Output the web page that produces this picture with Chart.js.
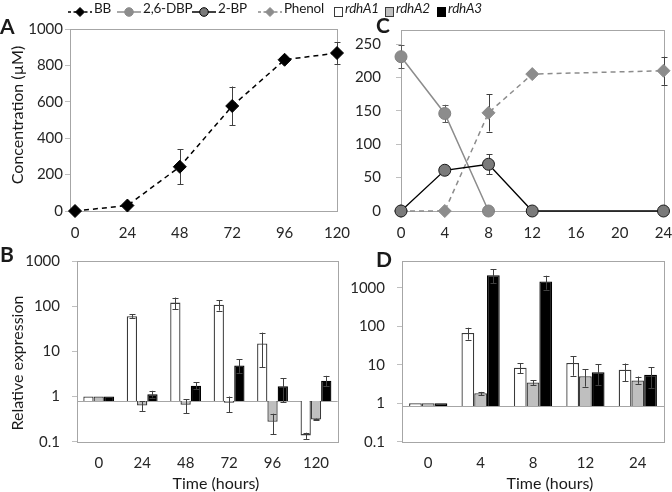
<!DOCTYPE html>
<html><head><meta charset="utf-8">
<script src="https://cdn.jsdelivr.net/npm/chart.js@4.4.1/dist/chart.umd.min.js"></script>
<style>
html,body{margin:0;padding:0;background:#fff;}
#wrap{position:relative;width:672px;height:492px;overflow:hidden;font-family:Lato,sans-serif;color:#1a1a1a;background:#fff;}
canvas{position:absolute;}
.lgt{position:absolute;top:0;height:16px;font-size:13.5px;line-height:16px;letter-spacing:-0.2px;white-space:nowrap;}
.lgs{position:absolute;top:2px;}
.let{position:absolute;font-weight:bold;font-size:21px;line-height:21px;}
.ttl{position:absolute;font-size:16px;line-height:20px;height:20px;width:220px;text-align:center;white-space:nowrap;}
</style></head><body>
<div id="wrap">
 <canvas id="cA" width="360" height="250" style="left:0;top:0"></canvas>
 <canvas id="cC" width="336" height="250" style="left:336px;top:0"></canvas>
 <canvas id="cB" width="360" height="252" style="left:0;top:240px"></canvas>
 <canvas id="cD" width="336" height="252" style="left:336px;top:240px"></canvas>
 <div class="let" style="left:0px;top:15px">A</div>
 <div class="let" style="left:376px;top:14px">C</div>
 <div class="let" style="left:0px;top:243px">B</div>
 <div class="let" style="left:376px;top:248px">D</div>
 <div class="ttl" style="left:-93px;top:105px;transform:rotate(-90deg)">Concentration (µM)</div>
 <div class="ttl" style="left:-93px;top:353px;transform:rotate(-90deg)">Relative expression</div>
 <div class="ttl" style="left:106px;top:473px">Time (hours)</div>
 <div class="ttl" style="left:440px;top:473px">Time (hours)</div>
 <div id="legend"></div>
</div>
<script>
// ---------- data ----------
const timeA = [0, 24, 48, 72, 96, 120];
const bb    = [0, 30, 243, 577, 831, 868];
const bbErr = [0, 0, 97, 107, 0, 60];

const timeC     = [0, 4, 8, 12, 24];
const dbp       = [231, 146, 0, null, null];
const dbpErr    = [17, 13, 0, 0, 0];
const bp        = [0, 61, 70, 0, 0];
const bpErr     = [0, 0, 15, 0, 0];
const phenol    = [0, 0, 147, 205, 210];
const phenolErr = [0, 0, 28, 0, 21];

const ticksA = [0, 24, 48, 72, 96, 120];
const ticksCy = [0, 50, 100, 150, 200, 250];
const logTicks = [0.1, 1, 10, 100, 1000];

const catB = ['0', '24', '48', '72', '96', '120'];
const rdhA1B   = [1, 60, 120, 108, 14.9, 0.138];
const rdhA1Blo = [1, 55, 85, 80, 4.4, 0.115];
const rdhA1Bhi = [1, 66, 155, 137, 26, 0.158];
const rdhA2B   = [1, 0.63, 0.66, 0.73, 0.277, 0.31];
const rdhA2Blo = [1, 0.48, 0.43, 0.45, 0.148, 0.295];
const rdhA2Bhi = [1, 0.78, 0.86, 1.0, 0.416, 0.325];
const rdhA3B   = [1, 1.13, 1.73, 4.88, 1.68, 2.23];
const rdhA3Blo = [1, 0.95, 1.45, 3.35, 0.74, 1.7];
const rdhA3Bhi = [1, 1.34, 2.05, 6.7, 2.56, 2.87];

const catD = ['0', '4', '8', '12', '24'];
const rdhA1D   = [1, 67, 8.35, 11.1, 7.4];
const rdhA1Dlo = [1, 45, 6.1, 5.2, 3.75];
const rdhA1Dhi = [1, 92, 11.1, 16.9, 10.8];
const rdhA2D   = [1, 1.82, 3.45, 5.07, 3.9];
const rdhA2Dlo = [1, 1.62, 3.0, 2.7, 3.19];
const rdhA2Dhi = [1, 1.97, 3.98, 7.7, 4.95];
const rdhA3D   = [1, 2146, 1470, 6.44, 5.48];
const rdhA3Dlo = [1, 1300, 900, 3.0, 2.5];
const rdhA3Dhi = [1, 3020, 2070, 10.2, 8.7];

const baseB = 0.8;
const baseD = 0.85;

// ---------- helpers ----------
Chart.defaults.font.family = 'Lato, sans-serif';
Chart.defaults.font.size = 15;
Chart.defaults.color = '#262626';

function pts(xs, ys) {
  const out = [];
  xs.forEach((x, i) => { if (ys[i] !== null) out.push({x: x, y: ys[i]}); });
  return out;
}
function errs(xs, ys, es, sign) {
  const out = [];
  xs.forEach((x, i) => { if (ys[i] !== null) out.push(ys[i] + sign * es[i]); });
  return out;
}
function fitY(w) {
  return s => { s.width = w; s.paddingTop = 0; s.paddingBottom = 0; s.paddingLeft = 0; s.paddingRight = 0; };
}
function fitX(h) {
  return s => { s.height = h; s.paddingTop = 0; s.paddingBottom = 0; s.paddingLeft = 0; s.paddingRight = 0; };
}
function drawErr(chart) {
  const ctx = chart.ctx;
  chart.data.datasets.forEach((ds, i) => {
    if (!ds.errLo) return;
    const meta = chart.getDatasetMeta(i);
    const ys = chart.scales[meta.yAxisID];
    ctx.save();
    ctx.strokeStyle = ds.errColor || '#404040';
    ctx.lineWidth = 1;
    meta.data.forEach((el, j) => {
      const lo = ds.errLo[j], hi = ds.errHi[j];
      if (lo == null || hi == null || lo === hi) return;
      const x = Math.round(el.x) + 0.5;
      const y1 = ys.getPixelForValue(lo), y2 = ys.getPixelForValue(hi);
      ctx.beginPath();
      ctx.moveTo(x, y1); ctx.lineTo(x, y2);
      ctx.moveTo(x - 3, Math.round(y1) + 0.5); ctx.lineTo(x + 3, Math.round(y1) + 0.5);
      ctx.moveTo(x - 3, Math.round(y2) + 0.5); ctx.lineTo(x + 3, Math.round(y2) + 0.5);
      ctx.stroke();
    });
    ctx.restore();
  });
}
const boxPlugin = {
  id: 'box',
  beforeDatasetsDraw(chart, args, opts) {
    const {ctx, chartArea: a} = chart;
    ctx.save();
    ctx.strokeStyle = '#a6a6a6';
    ctx.lineWidth = 1;
    ctx.strokeRect(Math.round(a.left) + 0.5, Math.round(a.top) + 0.5,
                   Math.round(a.right - a.left), Math.round(a.bottom - a.top));
    if (opts && opts.baseline != null) {
      const y = Math.round(chart.scales.y.getPixelForValue(opts.baseline)) + 0.5;
      ctx.beginPath(); ctx.moveTo(a.left, y); ctx.lineTo(a.right, y); ctx.stroke();
    }
    ctx.restore();
  }
};
const errBefore = {id: 'errBefore', beforeDatasetsDraw: drawErr};
const errAfter = {id: 'errAfter', afterDatasetsDraw: drawErr};

function baseOpts(cw, ch, l, t, r, b) {
  return {
    responsive: false, animation: false, events: [],
    layout: {padding: {left: 0, top: t, right: cw - r, bottom: 0}},
    plugins: {legend: {display: false}, tooltip: {enabled: false}},
    _xh: ch - b, _yw: l
  };
}
const plainNum = v => String(v);

// ---------- Panel A ----------
(function () {
  const o = baseOpts(360, 250, 70, 29, 337, 211);
  o.scales = {
    x: {type: 'linear', min: -2.3, max: 120,
        afterBuildTicks: s => { s.ticks = ticksA.map(v => ({value: v})); },
        ticks: {padding: 13, callback: plainNum}, grid: {display: false, drawTicks: false}, border: {display: false},
        afterFit: fitX(o._xh)},
    y: {type: 'linear', min: 0, max: 1000, ticks: {stepSize: 200, padding: 2, callback: plainNum},
        grid: {drawOnChartArea: false, tickLength: 5, tickColor: '#bfbfbf'}, border: {display: false},
        afterFit: fitY(o._yw)}
  };
  new Chart(document.getElementById('cA'), {
    type: 'line',
    data: {datasets: [{
      label: 'BB', data: pts(timeA, bb),
      errLo: errs(timeA, bb, bbErr, -1), errHi: errs(timeA, bb, bbErr, 1), errColor: '#404040',
      borderColor: '#000', borderWidth: 1.5, borderDash: [5, 4],
      pointStyle: 'rectRot', pointRadius: 6.5, pointBackgroundColor: '#000', pointBorderColor: '#000',
      pointBorderWidth: 1, clip: false
    }]},
    options: o,
    plugins: [boxPlugin, errBefore]
  });
})();

// ---------- Panel C ----------
(function () {
  const o = baseOpts(336, 250, 65, 30, 327.5, 211);
  o.scales = {
    x: {type: 'linear', min: 0, max: 24, ticks: {stepSize: 4, padding: 13, callback: plainNum},
        grid: {display: false, drawTicks: false}, border: {display: false}, afterFit: fitX(o._xh)},
    y: {type: 'linear', min: 0, max: 271,
        afterBuildTicks: s => { s.ticks = ticksCy.map(v => ({value: v})); },
        ticks: {padding: 15, callback: plainNum},
        grid: {drawOnChartArea: false, tickLength: 5, tickColor: '#bfbfbf'}, border: {display: false},
        afterFit: fitY(o._yw)}
  };
  new Chart(document.getElementById('cC'), {
    type: 'line',
    data: {datasets: [
      {label: '2-BP', data: pts(timeC, bp),
       errLo: errs(timeC, bp, bpErr, -1), errHi: errs(timeC, bp, bpErr, 1), errColor: '#404040',
       borderColor: '#000', borderWidth: 1.3,
       pointStyle: 'circle', pointRadius: 6, pointBackgroundColor: '#7a7a7a', pointBorderColor: '#1a1a1a',
       pointBorderWidth: 1, clip: false},
      {label: '2,6-DBP', data: pts(timeC, dbp),
       errLo: errs(timeC, dbp, dbpErr, -1), errHi: errs(timeC, dbp, dbpErr, 1), errColor: '#595959',
       borderColor: '#8c8c8c', borderWidth: 1.5,
       pointStyle: 'circle', pointRadius: 6, pointBackgroundColor: '#8c8c8c', pointBorderColor: '#808080',
       pointBorderWidth: 1, clip: false},
      {label: 'Phenol', data: pts(timeC, phenol),
       errLo: errs(timeC, phenol, phenolErr, -1), errHi: errs(timeC, phenol, phenolErr, 1), errColor: '#404040',
       borderColor: '#8c8c8c', borderWidth: 1.5, borderDash: [5, 4],
       pointStyle: 'rectRot', pointRadius: 6.5, pointBackgroundColor: '#8c8c8c', pointBorderColor: '#8c8c8c',
       pointBorderWidth: 1, clip: false}
    ]},
    options: o,
    plugins: [boxPlugin, errBefore]
  });
})();

// ---------- bar panels ----------
function barChart(id, cw, ch, area, cats, series, base, maxV, catPct, yPad, xPad) {
  const o = baseOpts(cw, ch, area[0], area[1], area[2], area[3]);
  o.plugins.box = {baseline: base};
  o.scales = {
    x: {type: 'category', offset: true, ticks: {padding: xPad},
        grid: {display: false, drawTicks: false}, border: {display: false}, afterFit: fitX(o._xh)},
    y: {type: 'logarithmic', min: 0.1, max: maxV,
        afterBuildTicks: s => { s.ticks = logTicks.map(v => ({value: v})); },
        ticks: {padding: yPad, callback: plainNum},
        grid: {drawOnChartArea: false, tickLength: 5, tickColor: '#bfbfbf'}, border: {display: false},
        afterFit: fitY(o._yw)}
  };
  const styles = [
    {bg: '#ffffff', bd: '#3a3a3a'},
    {bg: '#bfbfbf', bd: '#3a3a3a'},
    {bg: '#000000', bd: '#000000'}
  ];
  new Chart(document.getElementById(id), {
    type: 'bar',
    data: {labels: cats, datasets: series.map((s, k) => ({
      label: s.label, data: s.v, errLo: s.lo, errHi: s.hi, errColor: '#404040',
      base: base, backgroundColor: styles[k].bg, borderColor: styles[k].bd, borderWidth: 1.3,
      categoryPercentage: catPct, barPercentage: 1
    }))},
    options: o,
    plugins: [boxPlugin, errAfter]
  });
}
barChart('cB', 360, 252, [77, 21, 337.7, 201.7], catB, [
  {label: 'rdhA1', v: rdhA1B, lo: rdhA1Blo, hi: rdhA1Bhi},
  {label: 'rdhA2', v: rdhA2B, lo: rdhA2Blo, hi: rdhA2Bhi},
  {label: 'rdhA3', v: rdhA3B, lo: rdhA3Blo, hi: rdhA3Bhi}
], baseB, 1000, 0.71, 12, 12);
barChart('cD', 336, 252, [66, 21, 328, 201.7], catD, [
  {label: 'rdhA1', v: rdhA1D, lo: rdhA1Dlo, hi: rdhA1Dhi},
  {label: 'rdhA2', v: rdhA2D, lo: rdhA2Dlo, hi: rdhA2Dhi},
  {label: 'rdhA3', v: rdhA3D, lo: rdhA3Dlo, hi: rdhA3Dhi}
], baseD, 5000, 0.73, 12, 12);

// ---------- legend ----------
const legendItems = [
  {label: 'BB', sx: 67, tx: 94, kind: 'line', color: '#000', dash: '3,2.5', marker: 'diamond', mfill: '#000', mstroke: '#000'},
  {label: '2,6-DBP', sx: 116, tx: 143, kind: 'line', color: '#8c8c8c', dash: null, marker: 'circle', mfill: '#8c8c8c', mstroke: '#8c8c8c'},
  {label: '2-BP', sx: 191, tx: 218, kind: 'line', color: '#000', dash: null, marker: 'circle', mfill: '#7a7a7a', mstroke: '#000'},
  {label: 'Phenol', sx: 257, tx: 284, kind: 'line', color: '#8c8c8c', dash: '3,2.5', marker: 'diamond', mfill: '#8c8c8c', mstroke: '#8c8c8c'},
  {label: 'rdhA1', sx: 334, tx: 345, kind: 'box', fill: '#fff', stroke: '#3a3a3a'},
  {label: 'rdhA2', sx: 385, tx: 396, kind: 'box', fill: '#bfbfbf', stroke: '#3a3a3a'},
  {label: 'rdhA3', sx: 437, tx: 448, kind: 'box', fill: '#000', stroke: '#000'}
];
const lg = document.getElementById('legend');
legendItems.forEach(it => {
  let svg;
  if (it.kind === 'line') {
    const m = it.marker === 'diamond'
      ? `<polygon points="13,1.5 17.5,6 13,10.5 8.5,6" fill="${it.mfill}" stroke="${it.mstroke}" stroke-width="1"/>`
      : `<circle cx="13" cy="6" r="4.3" fill="${it.mfill}" stroke="${it.mstroke}" stroke-width="1"/>`;
    svg = `<svg width="26" height="12"><line x1="1" y1="6" x2="25" y2="6" stroke="${it.color}" stroke-width="1.5" ${it.dash ? `stroke-dasharray="${it.dash}"` : ''}/>${m}</svg>`;
  } else {
    svg = `<svg width="10" height="12"><rect x="0.5" y="1.5" width="8" height="9" fill="${it.fill}" stroke="${it.stroke}" stroke-width="1"/></svg>`;
  }
  const s = document.createElement('div');
  s.className = 'lgs'; s.style.left = it.sx + 'px'; s.innerHTML = svg;
  lg.appendChild(s);
  const t = document.createElement('div');
  t.className = 'lgt'; t.style.left = it.tx + 'px'; t.textContent = it.label;
  if (it.kind === 'box') t.style.fontStyle = 'italic';
  lg.appendChild(t);
});
</script>
</body></html>
